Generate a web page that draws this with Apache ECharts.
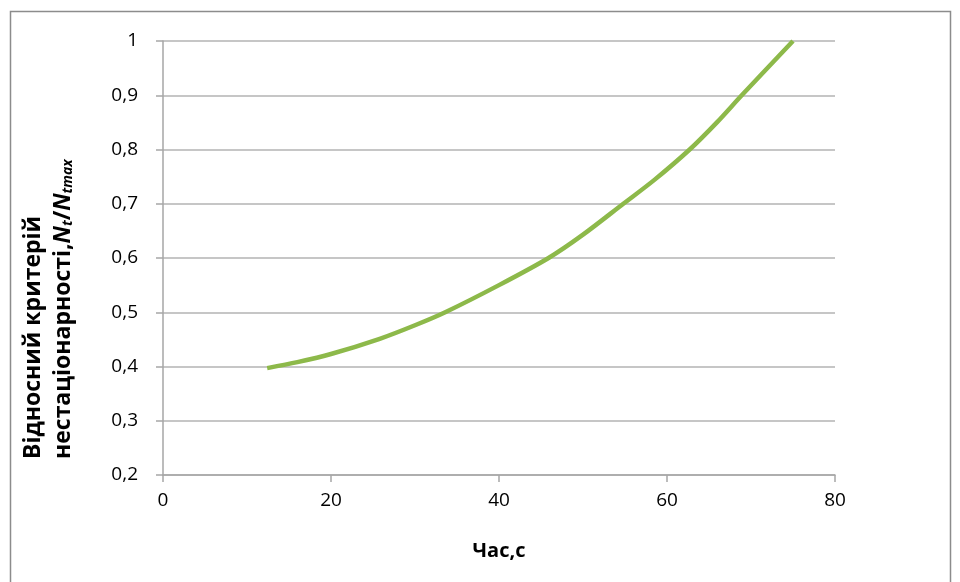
<!DOCTYPE html>
<html><head><meta charset="utf-8">
<script src="https://cdn.jsdelivr.net/npm/echarts@6/dist/echarts.min.js"></script>
<style>html,body{margin:0;padding:0;background:#fff}#c{width:960px;height:582px}</style>
</head><body><div id="c"></div>
<script>
const timeValues = [12.4, 16, 20, 25.8, 30, 33.6, 40, 45.9, 50, 54.8, 58.5, 62.7, 66, 68.9, 75];
const ratioValues = [0.397, 0.408, 0.423, 0.451, 0.476, 0.5, 0.55, 0.6, 0.643, 0.7, 0.744, 0.8, 0.851, 0.9, 1.0];
const xTitle = 'Час,с';
const yTitleLine1 = 'Відносний критерій';
const yTitleLine2 = 'нестаціонарності,';

const chart = echarts.init(document.getElementById('c'));
const font = '"Open Sans", "Noto Sans", sans-serif';
chart.setOption({
  animation: false,
  graphic: [
    {type:'rect', shape:{x:10.5,y:11.5,width:940,height:580}, style:{fill:'none', stroke:'#8c8c8c', lineWidth:1.5}, silent:true},
    {type:'text', x:48, y:459, rotation:Math.PI/2, silent:true,
      style:{
        text: '{a|' + yTitleLine1 + '}\n{a|' + yTitleLine2 + '}{i|N}{s|t}{a|/}{i|N}{s|tmax}',
        align:'left', verticalAlign:'middle',
        rich:{
          a:{fontFamily:font, fontWeight:'bold', fontSize:23, fill:'#000', lineHeight:30},
          i:{fontFamily:font, fontWeight:'bold', fontStyle:'italic', fontSize:23, fill:'#000', lineHeight:30},
          s:{fontFamily:font, fontWeight:'bold', fontStyle:'italic', fontSize:14, fill:'#000', lineHeight:30, padding:[11,0,0,0]}
        }
      }}
  ],
  grid: {left:163, right:125, top:41, bottom:107},
  xAxis: {
    type:'value', min:0, max:80, interval:20,
    name: xTitle, nameLocation:'middle', nameGap:66,
    nameTextStyle:{fontFamily:font, fontWeight:'bold', fontSize:20, color:'#000'},
    axisLine:{show:true, lineStyle:{color:'#a6a6a6', width:1.5}},
    axisTick:{show:true, length:7, lineStyle:{color:'#a6a6a6', width:1.5}},
    axisLabel:{fontFamily:font, fontSize:19, color:'#000', margin:16},
    splitLine:{show:false}
  },
  yAxis: {
    type:'value', min:0.2, max:1, interval:0.1,
    axisLine:{show:true, lineStyle:{color:'#a6a6a6', width:1.5}},
    axisTick:{show:true, length:7, lineStyle:{color:'#a6a6a6', width:1.5}},
    axisLabel:{fontFamily:font, fontSize:19, color:'#000', margin:25,
      formatter: v => (Math.round(v*10)/10).toString().replace('.', ',')},
    splitLine:{show:true, lineStyle:{color:'#b3b3b3', width:1.5}}
  },
  series: [{
    type:'line', smooth:0.3, showSymbol:false,
    data: timeValues.map((t,i)=>[t, ratioValues[i]]),
    lineStyle:{color:'#8db94a', width:4.5}
  }]
});
</script></body></html>
